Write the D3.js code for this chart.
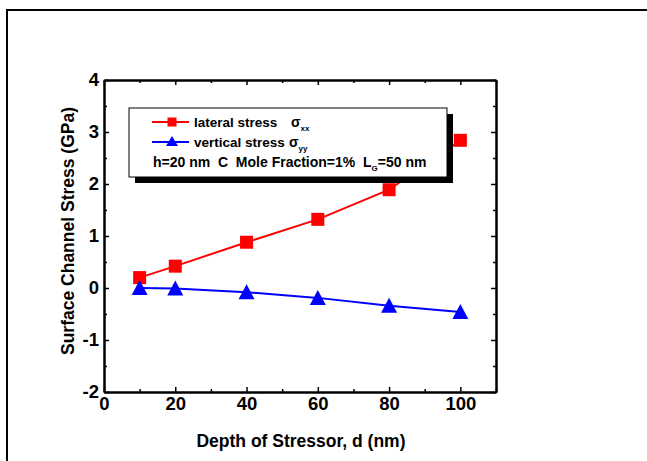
<!DOCTYPE html>
<html>
<head>
<meta charset="utf-8">
<script src="https://d3js.org/d3.v7.min.js"></script>
<style>
  body { margin: 0; background: #fff; }
  svg { display: block; font-family: "Liberation Sans", Arial, sans-serif; }
  .tick text { font-weight: bold; font-size: 18.5px; fill: #000; font-family: "Liberation Sans", Arial, sans-serif; }
  .domain { stroke: #000; stroke-width: 2; }
  .tick line { stroke: #000; stroke-width: 1.5; }
  .pre { white-space: pre; }
</style>
</head>
<body>
<div id="chart"></div>
<script>
"use strict";
// data
const depth = [10, 20, 40, 60, 80, 100];
const lateral = [0.2, 0.42, 0.88, 1.32, 1.89, 2.84];
const vertical = [0.0, -0.01, -0.08, -0.19, -0.34, -0.46];
const xMajor = [0, 20, 40, 60, 80, 100];
const xMinor = [10, 30, 50, 70, 90, 110];
const yMajor = [-2, -1, 0, 1, 2, 3, 4];
const yMinor = [-1.5, -0.5, 0.5, 1.5, 2.5, 3.5];

const W = 647, H = 461;
const plot = { left: 104, right: 496, top: 80, bottom: 392 };

const svg = d3.select("#chart").append("svg")
  .attr("width", W).attr("height", H);

// outer figure frame
svg.append("rect")
  .attr("x", 7).attr("y", 10)
  .attr("width", 660).attr("height", 470)
  .attr("fill", "none").attr("stroke", "#000").attr("stroke-width", 2);

const x = d3.scaleLinear().domain([0, 110]).range([plot.left, plot.right]);
const y = d3.scaleLinear().domain([-2, 4]).range([plot.bottom, plot.top]);

// axes, ticks pointing inward
svg.append("g").attr("transform", `translate(0,${plot.bottom})`)
  .call(d3.axisBottom(x).tickValues(xMajor).tickSize(-5).tickPadding(5).tickSizeOuter(0));
svg.append("g").attr("transform", `translate(0,${plot.bottom})`)
  .call(d3.axisBottom(x).tickValues(xMinor).tickSize(-3).tickFormat("").tickSizeOuter(0));
svg.append("g").attr("transform", `translate(0,${plot.top})`)
  .call(d3.axisTop(x).tickValues(xMajor).tickSize(-5).tickFormat("").tickSizeOuter(0));
svg.append("g").attr("transform", `translate(0,${plot.top})`)
  .call(d3.axisTop(x).tickValues(xMinor).tickSize(-3).tickFormat("").tickSizeOuter(0));

svg.append("g").attr("transform", `translate(${plot.left},0)`)
  .call(d3.axisLeft(y).tickValues(yMajor).tickSize(-5).tickPadding(5).tickFormat(d => String(d)).tickSizeOuter(0));
svg.append("g").attr("transform", `translate(${plot.left},0)`)
  .call(d3.axisLeft(y).tickValues(yMinor).tickSize(-3).tickFormat("").tickSizeOuter(0));
svg.append("g").attr("transform", `translate(${plot.right},0)`)
  .call(d3.axisRight(y).tickValues(yMajor).tickSize(-5).tickFormat("").tickSizeOuter(0));
svg.append("g").attr("transform", `translate(${plot.right},0)`)
  .call(d3.axisRight(y).tickValues(yMinor).tickSize(-3).tickFormat("").tickSizeOuter(0));

// axis titles
svg.append("text")
  .attr("x", 301).attr("y", 447)
  .attr("text-anchor", "middle")
  .attr("font-size", 17.5).attr("font-weight", "bold")
  .text("Depth of Stressor, d (nm)");

svg.append("text")
  .attr("transform", `translate(74,${(plot.top + plot.bottom) / 2 - 5}) rotate(-90)`)
  .attr("text-anchor", "middle")
  .attr("font-size", 17.5).attr("font-weight", "bold")
  .text("Surface Channel Stress (GPa)");

// series
const line = d3.line();
const redPts = depth.map((d, i) => [x(d), y(lateral[i])]);
const bluePts = depth.map((d, i) => [x(d), y(vertical[i])]);

svg.append("path").attr("d", line(redPts))
  .attr("fill", "none").attr("stroke", "#ff0000").attr("stroke-width", 2);
svg.append("path").attr("d", line(bluePts))
  .attr("fill", "none").attr("stroke", "#0000ff").attr("stroke-width", 2);

const sq = 13;
svg.selectAll(".sq").data(redPts).enter().append("rect")
  .attr("x", d => d[0] - sq / 2).attr("y", d => d[1] - sq / 2)
  .attr("width", sq).attr("height", sq).attr("fill", "#ff0000");

function tri(cx, cy) {
  return `M${cx},${cy - 8}L${cx + 8},${cy + 7}L${cx - 8},${cy + 7}Z`;
}
svg.selectAll(".tri").data(bluePts).enter().append("path")
  .attr("d", d => tri(d[0], d[1])).attr("fill", "#0000ff");

// legend box with shadow
const lg = { x: 129, y: 108, w: 318, h: 69 };
svg.append("rect").attr("x", lg.x + 6).attr("y", lg.y + 6)
  .attr("width", lg.w).attr("height", lg.h).attr("fill", "#000");
svg.append("rect").attr("x", lg.x).attr("y", lg.y)
  .attr("width", lg.w).attr("height", lg.h)
  .attr("fill", "#fff").attr("stroke", "#000").attr("stroke-width", 1);

const legendRows = [
  { color: "#ff0000", label: "lateral stress", sub: "xx", sx: 291, cy: 122, mark: "sq" },
  { color: "#0000ff", label: "vertical stress", sub: "yy", sx: 289, cy: 142, mark: "tri" }
];
legendRows.forEach(r => {
  svg.append("line").attr("x1", 152).attr("x2", 189).attr("y1", r.cy).attr("y2", r.cy)
    .attr("stroke", r.color).attr("stroke-width", 2);
  if (r.mark === "sq") {
    svg.append("rect").attr("x", 172 - 4.5).attr("y", r.cy - 4.5)
      .attr("width", 9).attr("height", 9).attr("fill", r.color);
  } else {
    svg.append("path").attr("d", `M172,${r.cy - 6}L178,${r.cy + 4}L166,${r.cy + 4}Z`).attr("fill", r.color);
  }
  svg.append("text").attr("x", 194).attr("y", r.cy + 5)
    .attr("font-size", 13.5).attr("font-weight", "bold").text(r.label);
  const t = svg.append("text").attr("x", r.sx).attr("y", r.cy + 5)
    .attr("font-size", 14).attr("font-weight", "bold");
  t.append("tspan").text("σ");
  t.append("tspan").attr("font-size", 8).attr("dy", 4).text(r.sub);
});

const info = svg.append("text").attr("class", "pre").attr("x", 153).attr("y", 167)
  .attr("font-size", 14).attr("font-weight", "bold");
info.append("tspan").text("h=20 nm  C  Mole Fraction=1%  L");
info.append("tspan").attr("font-size", 8).attr("dy", 4).text("G");
info.append("tspan").attr("dy", -4).text("=50 nm");
</script>
</body>
</html>
